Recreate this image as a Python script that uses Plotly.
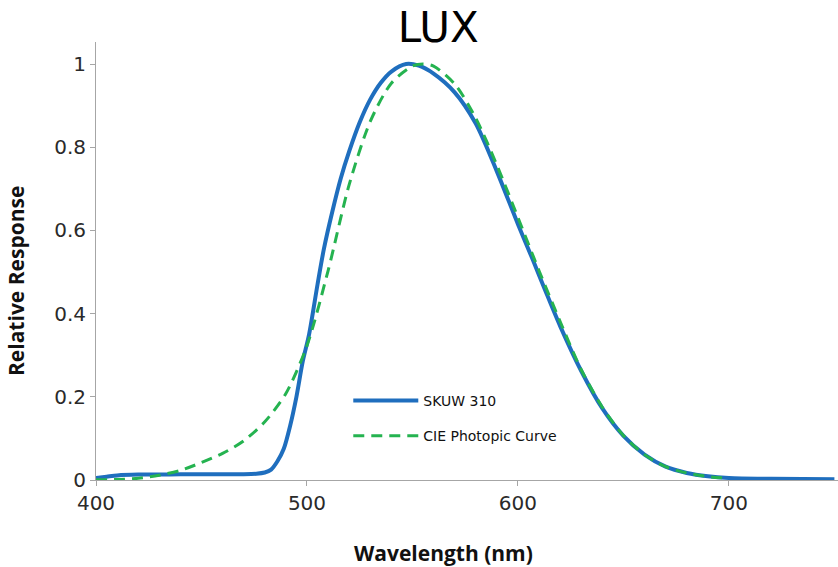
import plotly.graph_objects as go

# SKUW 310 measured response
skuw_nm = [400, 405, 410, 420, 430, 440, 450, 460, 470, 476, 480, 483, 486, 489, 492, 495,
           498, 501, 505, 508, 512, 516, 520, 525, 530, 535, 540, 547, 553, 560, 570, 580,
           590, 600, 607, 613, 620, 630, 640, 650, 660, 670, 680, 690, 700, 720, 750]
skuw_resp = [0.005, 0.008, 0.011, 0.013, 0.013, 0.014, 0.014, 0.014, 0.014, 0.015, 0.018, 0.025,
             0.045, 0.075, 0.13, 0.2, 0.285, 0.35, 0.47, 0.555, 0.645, 0.725, 0.79, 0.86, 0.915,
             0.955, 0.982, 1.0, 0.996, 0.977, 0.932, 0.857, 0.742, 0.615, 0.53, 0.455, 0.37, 0.262,
             0.172, 0.106, 0.061, 0.032, 0.017, 0.009, 0.005, 0.003, 0.002]

# CIE photopic luminosity curve
cie_nm = [400, 410, 420, 430, 440, 450, 460, 470, 480, 490, 500, 510, 520, 530, 540, 550,
          555, 560, 570, 580, 590, 600, 610, 620, 630, 640, 650, 660, 670, 680, 690, 700]
cie_resp = [0.0004, 0.0012, 0.004, 0.0116, 0.023, 0.042, 0.064, 0.094, 0.14, 0.208, 0.323,
            0.503, 0.71, 0.862, 0.954, 0.995, 1.0, 0.995, 0.952, 0.87, 0.757, 0.631, 0.503,
            0.381, 0.265, 0.175, 0.107, 0.061, 0.032, 0.017, 0.0082, 0.0041]

x_ticks = [400, 500, 600, 700]
y_ticks = [0, 0.2, 0.4, 0.6, 0.8, 1]
y_tick_text = ["0", "0.2", "0.4", "0.6", "0.8", "1"]

fig = go.Figure()
fig.add_trace(go.Scatter(
    x=skuw_nm, y=skuw_resp, mode="lines", name="SKUW 310", legendgroup="a",
    line=dict(color="#1F6EBE", width=4, shape="spline", smoothing=0.8),
))
fig.add_trace(go.Scatter(
    x=cie_nm, y=cie_resp, mode="lines", name="CIE Photopic Curve", legendgroup="b",
    line=dict(color="#25B350", width=3, dash="11px,7px", shape="spline", smoothing=0.8),
))

axis_common = dict(
    showgrid=False, zeroline=False, showline=True, linecolor="#A6A6A6", linewidth=1,
    ticks="outside", ticklen=5, tickcolor="#A6A6A6", tickwidth=1,
    tickfont=dict(family="DejaVu Sans", size=20, color="#2A2A2A"),
)

title_font = dict(family="Open Sans", size=21, color="#111111")

fig.update_layout(
    width=838, height=567,
    margin=dict(l=96, r=0, t=42, b=87),
    paper_bgcolor="white", plot_bgcolor="white",
    title=dict(text="LUX", x=0.523, xref="container", xanchor="center",
               y=0.952, yref="container", yanchor="middle",
               font=dict(family="DejaVu Sans", size=42, color="black")),
    xaxis=dict(range=[400, 751.7], tickvals=x_ticks, **axis_common),
    yaxis=dict(range=[0, 1.053], tickvals=y_ticks, ticktext=y_tick_text, **axis_common),
    annotations=[
        dict(text="<b>Relative Response</b>", textangle=-90,
             xref="paper", yref="paper", x=-0.108, y=0.454,
             xanchor="center", yanchor="middle", showarrow=False, font=title_font),
        dict(text="<b>Wavelength (nm)</b>",
             xref="paper", yref="paper", x=0.468, y=-0.167,
             xanchor="center", yanchor="middle", showarrow=False, font=title_font),
    ],
    showlegend=True,
    legend=dict(x=0.34, y=0.217, xanchor="left", yanchor="top",
                traceorder="grouped", tracegroupgap=14, itemwidth=65,
                bgcolor="rgba(0,0,0,0)",
                font=dict(family="DejaVu Sans", size=14, color="#111111")),
)

fig.write_html("out.html")
